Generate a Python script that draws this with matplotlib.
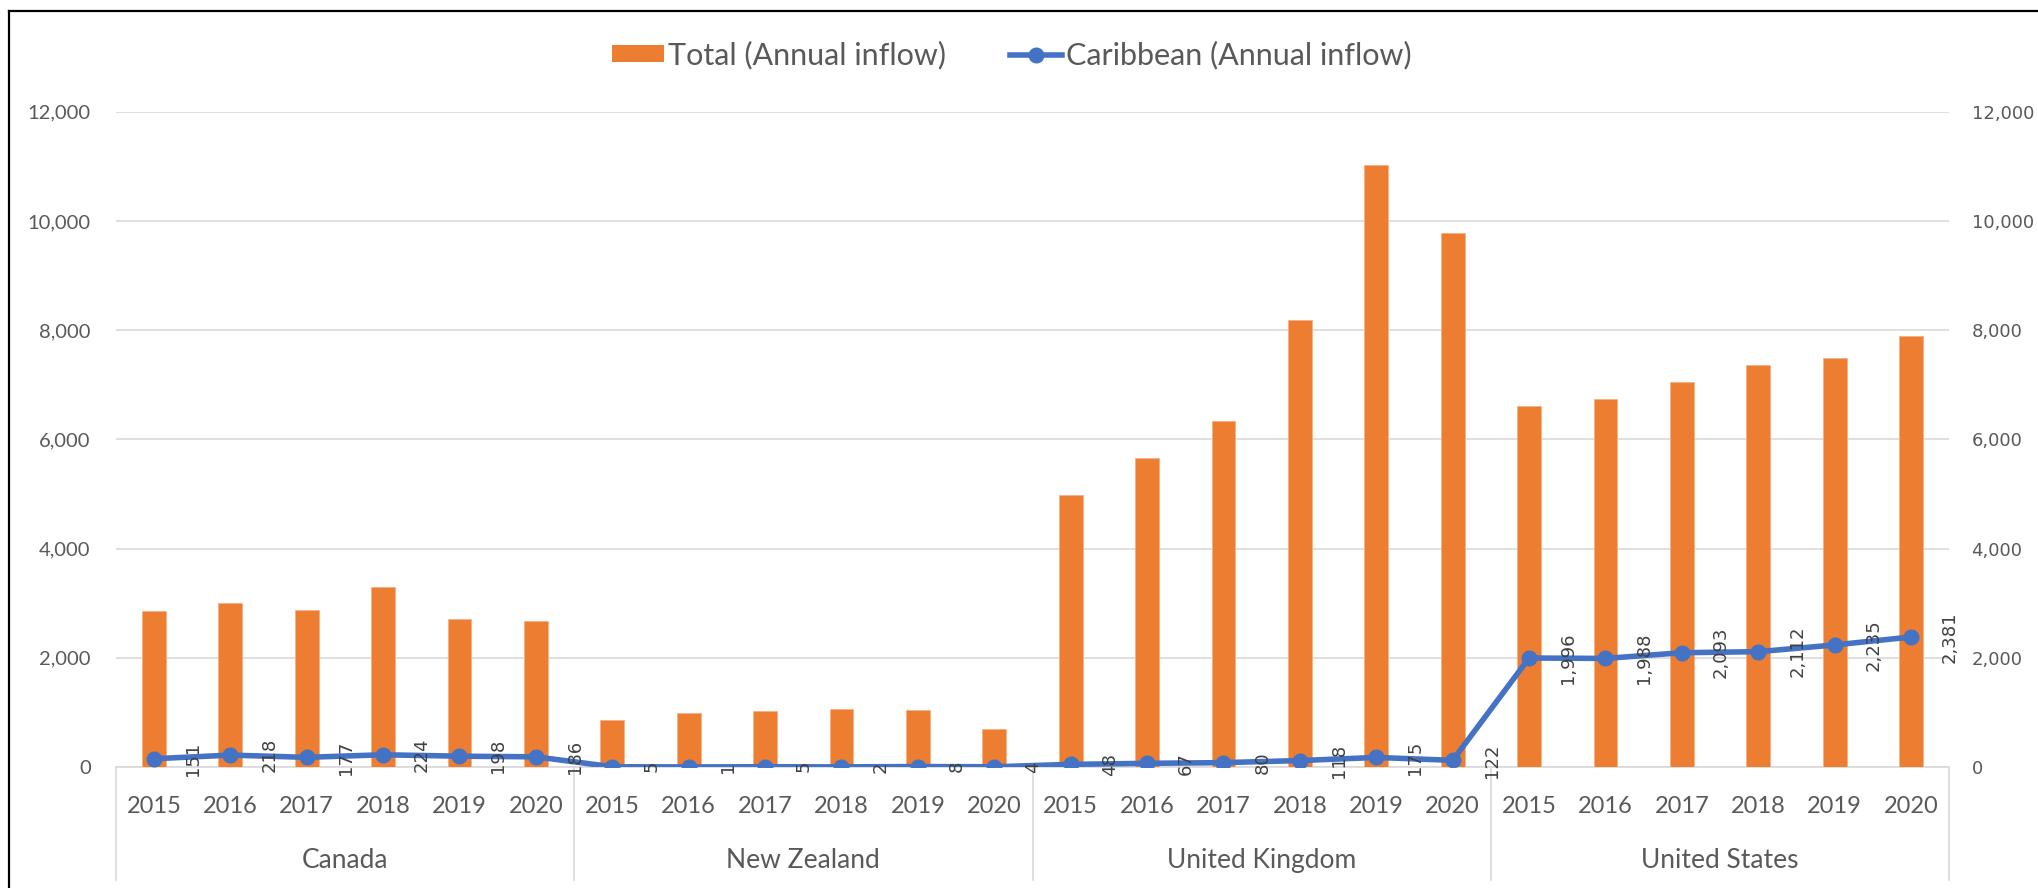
#!/usr/bin/env python

import numpy as np
import matplotlib as mpl
import matplotlib.pyplot as plt
from matplotlib.lines import Line2D
from matplotlib.patches import Patch
from matplotlib.ticker import FuncFormatter
from matplotlib.transforms import blended_transform_factory

mpl.rc('savefig', dpi=100)
mpl.rc('figure', dpi=100, figsize=(20.38, 8.88))

countries = ['Canada', 'New Zealand', 'United Kingdom', 'United States']
years = ['2015', '2016', '2017', '2018', '2019', '2020']

# Total annual inflow (bars)
total_canada = [2855, 2998, 2868, 3290, 2705, 2680]
total_nz = [861, 983, 1026, 1062, 1038, 690]
total_uk = [4987, 5659, 6337, 8181, 11031, 9780]
total_us = [6606, 6746, 7046, 7357, 7485, 7899]

# Caribbean annual inflow (line)
carib_canada = [151, 218, 177, 224, 198, 186]
carib_nz = [5, 1, 5, 2, 8, 4]
carib_uk = [48, 67, 80, 118, 175, 122]
carib_us = [1996, 1988, 2093, 2112, 2235, 2381]

ORANGE = '#ED7D31'
BLUE = '#4472C4'
GRID = '#D9D9D9'
TEXT = '#595959'


def main() -> None:

    totals = np.array(total_canada + total_nz + total_uk + total_us)
    carib = np.array(carib_canada + carib_nz + carib_uk + carib_us)
    x = np.arange(len(totals))

    fig = plt.figure()
    ax0 = fig.add_axes([115.7/2038, (888-767)/888, (1949.3-115.7)/2038, (767-111.7)/888])
    ax1 = ax0.twinx()

    ax0.bar(x, totals, width=0.31, color=ORANGE, edgecolor='#F4B183',
            lw=0.6, zorder=2, label='Total (Annual inflow)')

    ax1.plot(x, carib, color=BLUE, lw=4.0, marker='o', markersize=10.5,
             solid_capstyle='round', zorder=3, label='Caribbean (Annual inflow)')

    for xi, v in zip(x, carib):
        ax1.annotate(f'{v:,}', xy=(xi, v), xytext=(28, 0),
                     textcoords='offset points', rotation=90,
                     ha='center', va='center', fontsize=13,
                     family='DejaVu Sans', color='#404040', zorder=4)

    for ax in (ax0, ax1):
        ax.set_xlim(-0.5, len(totals) - 0.5)
        ax.set_ylim(0, 12000)
        ax.set_yticks(np.arange(0, 12001, 2000))
        ax.yaxis.set_major_formatter(FuncFormatter(lambda v, p: f'{v:,.0f}'))
        for s in ax.spines.values():
            s.set_visible(False)
        ax.tick_params(axis='both', length=0)
        ax.set_xticks([])

    ax0.grid(axis='y', color=GRID, lw=1.2, zorder=0)
    ax0.set_axisbelow(True)
    ax0.axhline(0, color=GRID, lw=1.2, zorder=1, clip_on=False)
    ax0.tick_params(axis='y', pad=18, labelsize=14.5, labelcolor=TEXT)
    for lbl in ax0.get_yticklabels():
        lbl.set_family('Lato')
    ax1.tick_params(axis='y', pad=16, labelsize=13, labelcolor=TEXT)
    for lbl in ax1.get_yticklabels():
        lbl.set_family('DejaVu Sans')

    # two-level category axis
    trans = blended_transform_factory(ax0.transData, ax0.transAxes)
    h = 767 - 111.7
    for xi, yr in zip(x, years * len(countries)):
        ax0.text(xi, -(806-767)/h, yr, transform=trans, ha='center',
                 va='center', fontsize=17, family='Lato', color=TEXT)
    n = len(years)
    for i, c in enumerate(countries):
        ax0.text(i*n + (n-1)/2, -(860-767)/h, c, transform=trans,
                 ha='center', va='center', fontsize=19, family='Lato',
                 color=TEXT)
    for i in range(len(countries) + 1):
        ax0.plot([i*n - 0.5]*2, [0, -(880-767)/h], transform=trans,
                 color=GRID, lw=1.2, clip_on=False)

    handles = [
        Patch(facecolor=ORANGE, edgecolor='none'),
        Line2D([], [], color=BLUE, lw=4.0, marker='o', markersize=10.5),
    ]
    fig.legend(
        handles,
        ['Total (Annual inflow)', 'Caribbean (Annual inflow)'],
        ncol=2,
        loc='center',
        bbox_to_anchor=(0.4963, 1 - 55/888),
        frameon=False,
        prop={'family': 'Lato', 'size': 22},
        labelcolor=TEXT,
        handlelength=1.7,
        handleheight=0.46,
        handletextpad=0.13,
        columnspacing=2.1,
    )

    # outer chart border (left and top edges)
    fig.add_artist(Line2D([9/2038, 9/2038], [0, 1 - 11/888], color='k', lw=1.6))
    fig.add_artist(Line2D([9/2038, 1], [1 - 11/888, 1 - 11/888], color='k', lw=1.6))

    fig.savefig('out.png')

    return


if __name__ == '__main__':
    main()
